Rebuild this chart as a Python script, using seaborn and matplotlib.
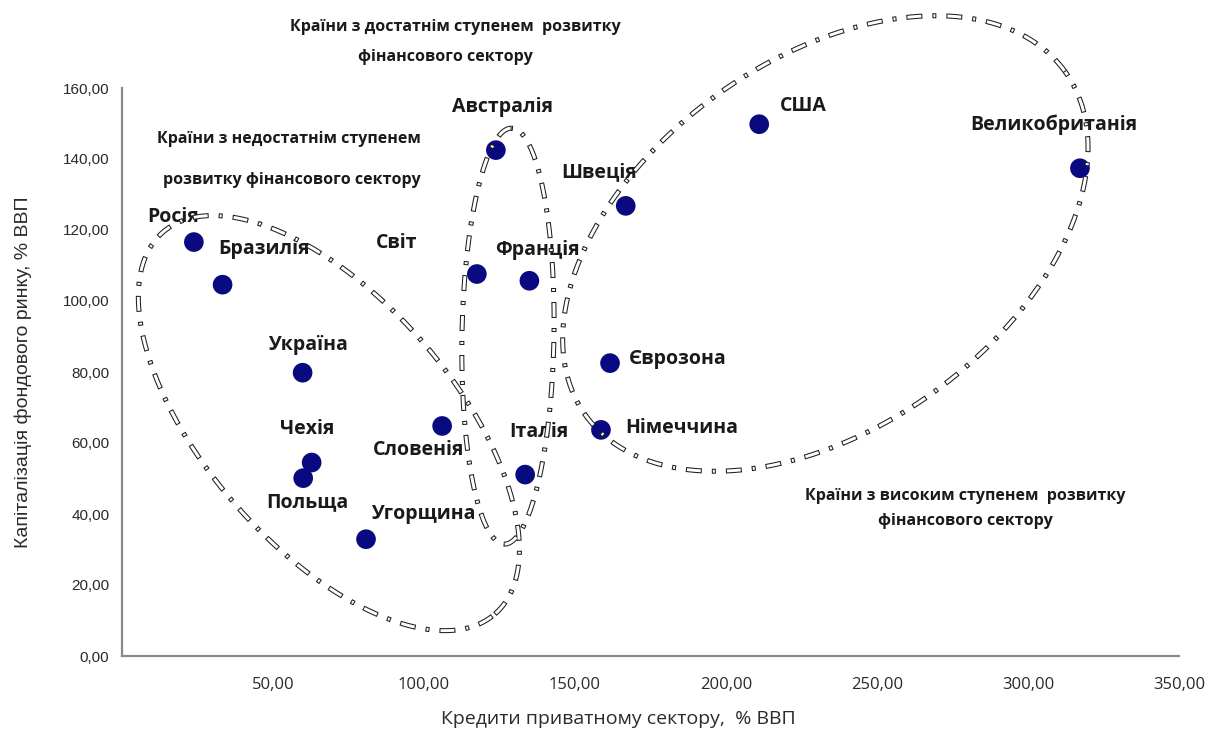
import numpy as np
import pandas as pd
import matplotlib
matplotlib.use("Agg")
import matplotlib.pyplot as plt
from matplotlib.ticker import FuncFormatter, FixedLocator
import seaborn as sns

# Country data: private-sector credit (% GDP) vs stock-market capitalisation (% GDP)
countries = ["Росія", "Бразилія", "Україна", "Чехія", "Польща", "Угорщина",
             "Словенія", "Світ", "Австралія", "Франція", "Італія", "Швеція",
             "Єврозона", "Німеччина", "США", "Великобританія"]
credit = [23.8, 33.3, 59.8, 62.8, 60.0, 80.8,
          106.0, 117.5, 123.8, 134.9, 133.5, 166.8,
          161.6, 158.6, 211.0, 317.2]
capitalization = [116.6, 104.6, 79.8, 54.5, 50.1, 32.9,
                  64.8, 107.6, 142.5, 105.7, 51.1, 126.8,
                  82.5, 63.7, 149.8, 137.4]

# Label placement relative to each point, in points
label_offsets = {
    "Росія": (-15, 18), "Бразилія": (30, 26), "Україна": (4, 20),
    "Чехія": (-3, 24), "Польща": (3, -17), "Угорщина": (41, 18),
    "Словенія": (-17, -17), "Світ": (-58, 22), "Австралія": (5, 31),
    "Франція": (6, 22), "Італія": (10, 31), "Швеція": (-19, 24),
    "Єврозона": (49, 3), "Німеччина": (58, 1), "США": (32, 13),
    "Великобританія": (-19, 31),
}

x_ticks = [50, 100, 150, 200, 250, 300, 350]
y_ticks = [0, 20, 40, 60, 80, 100, 120, 140, 160]

df = pd.DataFrame({"country": countries, "credit": credit, "cap": capitalization})

sns.set_style("white")
plt.rcParams["lines.scale_dashes"] = False
plt.rcParams["font.family"] = ["Open Sans", "DejaVu Sans"]

W, H = 1217, 730
fig = plt.figure(figsize=(W / 100, H / 100), dpi=100)
ax = fig.add_axes([122 / W, 1 - 656 / H, (1179 - 122) / W, (656 - 88) / H])

sns.scatterplot(data=df, x="credit", y="cap", ax=ax, color="#0a0a80", s=200,
                edgecolor="none", linewidth=0, zorder=5, legend=False)

ax.set_xlim(0, 350)
ax.set_ylim(0, 160)

axis_grey = "#8a8a8a"
for side in ("top", "right"):
    ax.spines[side].set_visible(False)
for side in ("left", "bottom"):
    ax.spines[side].set_color(axis_grey)
    ax.spines[side].set_linewidth(1.6)

ax.xaxis.set_major_locator(FixedLocator(x_ticks))
ax.yaxis.set_major_locator(FixedLocator(y_ticks))
comma_fmt = FuncFormatter(lambda v, _: f"{v:.2f}".replace(".", ","))
ax.xaxis.set_major_formatter(comma_fmt)
ax.yaxis.set_major_formatter(comma_fmt)
ax.tick_params(axis="both", direction="out", length=4, width=1.2, color=axis_grey,
               labelcolor="#2a2a2a")
ax.tick_params(axis="x", pad=11, labelsize=12, labelfontfamily="Open Sans")
ax.tick_params(axis="y", pad=5, labelsize=11, labelfontfamily="Liberation Sans")

ax.set_xlabel("Кредити приватному сектору,  % ВВП", fontsize=14, color="#2a2a2a",
              family=["Open Sans", "DejaVu Sans"])
ax.set_ylabel("Капіталізація фондового ринку, % ВВП", fontsize=14, color="#2a2a2a",
              family=["Liberation Sans", "DejaVu Sans"])
ax.xaxis.set_label_coords(0.47, -0.095)
ax.yaxis.set_label_coords(-0.085, 0.5)

# Country names next to the points
for name, xv, yv in zip(countries, credit, capitalization):
    dx, dy = label_offsets[name]
    ax.annotate(name, (xv, yv), xytext=(dx, dy), textcoords="offset points",
                ha="center", va="center", fontsize=14, fontweight="bold",
                color="#1a1a1a", zorder=6)


def group_outline(center, a_px, b_px, angle_deg):
    """Closed ellipse around a country group, drawn as a hollow dash-dot line."""
    cx, cy = ax.transData.transform(center)
    t = np.linspace(0, 2 * np.pi, 600)
    phi = np.deg2rad(angle_deg)
    scale = fig.dpi / 100
    ex = a_px * scale * np.cos(t)
    ey = b_px * scale * np.sin(t)
    px = cx + ex * np.cos(phi) - ey * np.sin(phi)
    py = cy + ex * np.sin(phi) + ey * np.cos(phi)
    pts = ax.transData.inverted().transform(np.column_stack([px, py]))
    dash, gap, dot = 11.5, 7.2, 2.9
    b = 0.75
    ax.plot(pts[:, 0], pts[:, 1], color="#1e1e1e", lw=3.6, clip_on=False,
            solid_capstyle="butt", dash_capstyle="butt", zorder=8,
            linestyle=(0, (dash, gap, dot, gap)))
    period = dash + gap + dot + gap
    ax.plot(pts[:, 0], pts[:, 1], color="white", lw=2.1, clip_on=False,
            dash_capstyle="butt", zorder=9,
            linestyle=(period - b, (dash - 2 * b, gap + 2 * b, dot - 2 * b, gap + 2 * b)))


group_outline((68.5, 65.6), 253, 124, -49)
group_outline((127.8, 90.1), 208, 46, 89)
group_outline((232.9, 116.2), 295, 184, 35.6)

# Group captions
captions = [
    ("Країни з достатнім ступенем  розвитку", 455, 27),
    ("фінансового сектору", 445, 57),
    ("Країни з недостатнім ступенем", 289, 139),
    ("розвитку фінансового сектору", 292, 180),
    ("Країни з високим ступенем  розвитку", 965, 496),
    ("фінансового сектору", 965, 521),
]
for text, px, py in captions:
    fig.text(px / W, 1 - py / H, text, ha="center", va="center", fontsize=11.5,
             fontweight="bold", color="#1a1a1a")

fig.savefig("out.png", dpi=100)
